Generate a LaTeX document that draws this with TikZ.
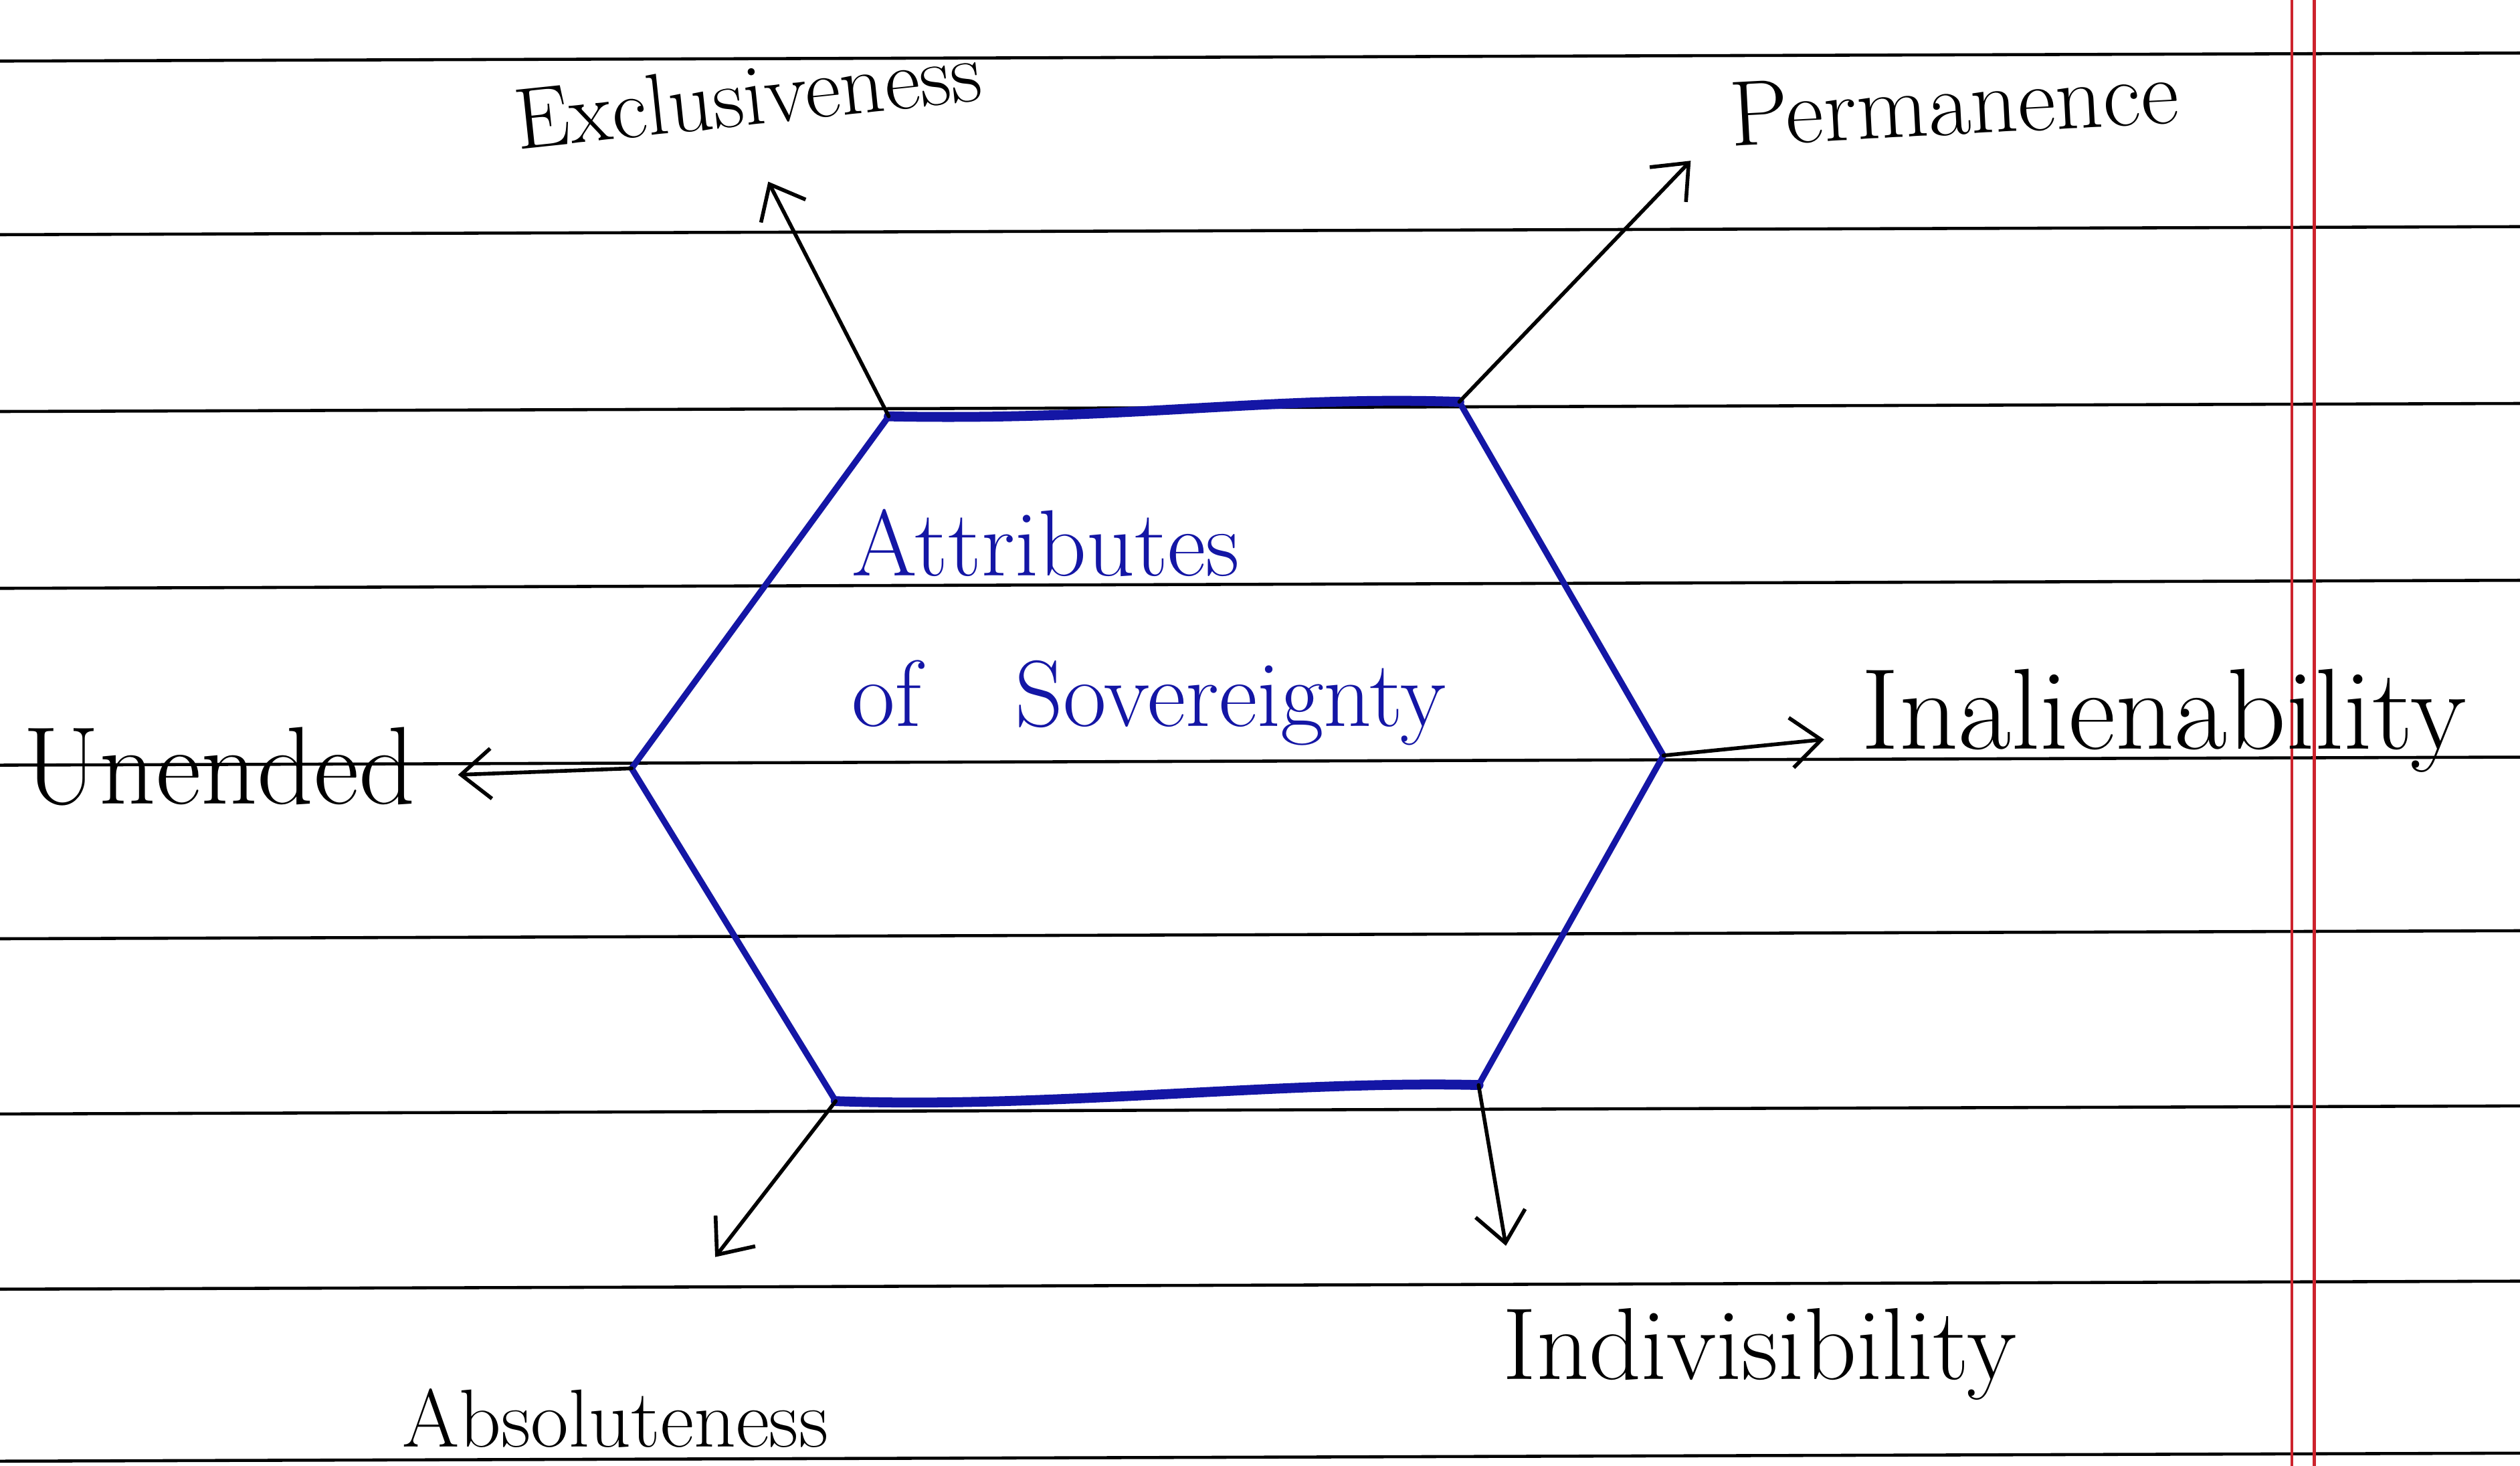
\documentclass[tikz,border=0pt]{standalone}
\usepackage{fontspec}
\usetikzlibrary{arrows.meta}
\definecolor{ink}{RGB}{20,22,165}
\definecolor{marginred}{RGB}{205,35,45}
\tikzset{
  rule/.style={black, line width=1.3pt},
  marginline/.style={marginred, line width=1.2pt},
  hexedge/.style={ink, line width=2.6pt, line join=round, line cap=round},
  hexthick/.style={ink, line width=4.2pt, line cap=round},
  link/.style={black, line width=1.6pt, line cap=round,
    -{Straight Barb[length=4.5mm,width=7.5mm]}},
  lbl/.style={inner sep=0pt, text=black, anchor=base west},
  centre/.style={inner sep=0pt, text=ink, anchor=base west, align=left},
}
\begin{document}
\begin{tikzpicture}[x=0.24024mm,y=-0.24024mm]
\useasboundingbox (0,0) rectangle (1568,912);
\fill[white] (0,0) rectangle (1568,912);
% ruled paper
\foreach \yy in {38,146,256,366,476,584,693,802,909}
  \draw[rule] (0,\yy) -- (1568,\yy-5);
\draw[marginline] (1426,0) -- (1426,912);
\draw[marginline] (1440,0) -- (1440,912);

% hexagon corners
\coordinate (TL) at (553,259);
\coordinate (TR) at (908,250);
\coordinate (R)  at (1035,470);
\coordinate (BR) at (920,675);
\coordinate (BL) at (520,685);
\coordinate (L)  at (393,478);

\draw[hexedge] (TR) -- (R) -- (BR);
\draw[hexedge] (BL) -- (L) -- (TL);
\draw[hexthick] (TL) .. controls (700,262) and (790,246) .. (TR);
\draw[hexthick] (BR) .. controls (800,672) and (650,690) .. (BL);

% centre text (base = last line)
\node[centre, font=\fontsize{40}{64}\selectfont] (title) at (530,452)
  {Attributes\\of\quad Sovereignty};

% labels
\node[lbl, rotate=6, font=\fontsize{37}{40}\selectfont] (excl) at (322,93) {Exclusiveness};
\node[lbl, rotate=3, font=\fontsize{39.5}{42}\selectfont] (perm) at (1077,91) {Permanence};
\node[lbl, font=\fontsize{49}{52}\selectfont] (inal) at (1158,466) {Inalienability};
\node[lbl, font=\fontsize{47}{50}\selectfont] (unen) at (14,500) {Unended};
\node[lbl, font=\fontsize{43.5}{48}\selectfont] (indiv) at (935,858) {Indivisibility};
\node[lbl, font=\fontsize{35}{40}\selectfont] (abso) at (250,900) {Absoluteness};

% arrow tips
\coordinate (tExcl) at (478,113);
\coordinate (tPerm) at (1052,100);
\coordinate (tInal) at (1135,460);
\coordinate (tIndiv) at (937,775);
\coordinate (tAbso) at (445,782);
\coordinate (tUnen) at (285,482);

\draw[link] (TL) -- (tExcl);
\draw[link] (TR) -- (tPerm);
\draw[link] (R) -- (tInal);
\draw[link] (BR) -- (tIndiv);
\draw[link] (BL) -- (tAbso);
\draw[link] (L) -- (tUnen);
\end{tikzpicture}
\end{document}
